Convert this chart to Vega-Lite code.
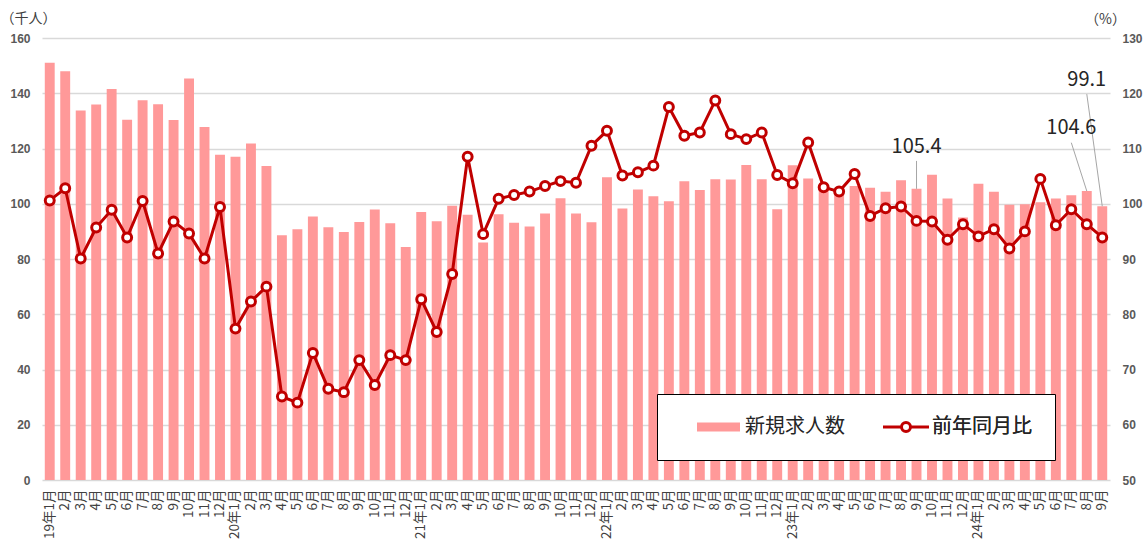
{
  "$schema": "https://vega.github.io/schema/vega-lite/v6.json",
  "width": 1068,
  "height": 442,
  "autosize": {"type": "none"},
  "padding": {"left": 42, "top": 38, "right": 35, "bottom": 61},
  "background": "white",
  "config": {
    "view": {"stroke": null},
    "font": "Noto Sans CJK JP",
    "legend": {"labelFontSize": 20, "labelFont": "Noto Sans CJK JP", "labelColor": "#262626", "symbolSize": 400}
  },
  "datasets": {
    "main": [
      {"m": "2019-01", "v": 151.0, "r": 100.6},
      {"m": "2019-02", "v": 148.0, "r": 102.8},
      {"m": "2019-03", "v": 133.8, "r": 90.1},
      {"m": "2019-04", "v": 135.9, "r": 95.7},
      {"m": "2019-05", "v": 141.5, "r": 98.9},
      {"m": "2019-06", "v": 130.4, "r": 93.9},
      {"m": "2019-07", "v": 137.5, "r": 100.5},
      {"m": "2019-08", "v": 136.0, "r": 91.0},
      {"m": "2019-09", "v": 130.3, "r": 96.8},
      {"m": "2019-10", "v": 145.3, "r": 94.6},
      {"m": "2019-11", "v": 127.8, "r": 90.1},
      {"m": "2019-12", "v": 117.7, "r": 99.4},
      {"m": "2020-01", "v": 117.0, "r": 77.4},
      {"m": "2020-02", "v": 121.8, "r": 82.3},
      {"m": "2020-03", "v": 113.7, "r": 85.0},
      {"m": "2020-04", "v": 88.6, "r": 65.1},
      {"m": "2020-05", "v": 90.8, "r": 64.0},
      {"m": "2020-06", "v": 95.4, "r": 73.0},
      {"m": "2020-07", "v": 91.5, "r": 66.5},
      {"m": "2020-08", "v": 89.8, "r": 65.9},
      {"m": "2020-09", "v": 93.4, "r": 71.7},
      {"m": "2020-10", "v": 97.9, "r": 67.2},
      {"m": "2020-11", "v": 92.9, "r": 72.6},
      {"m": "2020-12", "v": 84.3, "r": 71.7},
      {"m": "2021-01", "v": 97.0, "r": 82.7},
      {"m": "2021-02", "v": 93.7, "r": 76.8},
      {"m": "2021-03", "v": 99.3, "r": 87.3},
      {"m": "2021-04", "v": 96.0, "r": 108.5},
      {"m": "2021-05", "v": 86.0, "r": 94.5},
      {"m": "2021-06", "v": 96.2, "r": 100.9},
      {"m": "2021-07", "v": 93.1, "r": 101.6},
      {"m": "2021-08", "v": 91.8, "r": 102.2},
      {"m": "2021-09", "v": 96.5, "r": 103.2},
      {"m": "2021-10", "v": 102.0, "r": 104.1},
      {"m": "2021-11", "v": 96.5, "r": 103.8},
      {"m": "2021-12", "v": 93.3, "r": 110.5},
      {"m": "2022-01", "v": 109.6, "r": 113.2},
      {"m": "2022-02", "v": 98.3, "r": 105.1},
      {"m": "2022-03", "v": 105.2, "r": 105.7},
      {"m": "2022-04", "v": 102.7, "r": 106.9},
      {"m": "2022-05", "v": 100.9, "r": 117.5},
      {"m": "2022-06", "v": 108.1, "r": 112.3},
      {"m": "2022-07", "v": 105.0, "r": 112.9},
      {"m": "2022-08", "v": 108.9, "r": 118.7},
      {"m": "2022-09", "v": 108.8, "r": 112.6},
      {"m": "2022-10", "v": 114.0, "r": 111.7},
      {"m": "2022-11", "v": 108.9, "r": 112.9},
      {"m": "2022-12", "v": 98.0, "r": 105.2},
      {"m": "2023-01", "v": 113.9, "r": 103.7},
      {"m": "2023-02", "v": 109.1, "r": 111.1},
      {"m": "2023-03", "v": 106.5, "r": 103.0},
      {"m": "2023-04", "v": 103.5, "r": 102.2},
      {"m": "2023-05", "v": 106.4, "r": 105.4},
      {"m": "2023-06", "v": 105.8, "r": 97.8},
      {"m": "2023-07", "v": 104.3, "r": 99.2},
      {"m": "2023-08", "v": 108.5, "r": 99.5},
      {"m": "2023-09", "v": 105.4, "r": 96.9},
      {"m": "2023-10", "v": 110.5, "r": 96.8},
      {"m": "2023-11", "v": 101.9, "r": 93.5},
      {"m": "2023-12", "v": 95.0, "r": 96.3},
      {"m": "2024-01", "v": 107.2, "r": 94.1},
      {"m": "2024-02", "v": 104.3, "r": 95.4},
      {"m": "2024-03", "v": 99.6, "r": 91.9},
      {"m": "2024-04", "v": 99.8, "r": 95.0},
      {"m": "2024-05", "v": 100.5, "r": 104.5},
      {"m": "2024-06", "v": 101.9, "r": 96.1},
      {"m": "2024-07", "v": 103.1, "r": 99.0},
      {"m": "2024-08", "v": 104.6, "r": 96.3},
      {"m": "2024-09", "v": 99.1, "r": 93.9}
    ],
    "notes": [
      {"m": "2023-09", "v": 105.4, "m0": "2023-09", "v0": 115.5, "ty": 118.5, "lbl": "105.4"},
      {"m": "2024-08", "v": 104.6, "m0": "2024-07", "v0": 122.1, "ty": 125.1, "lbl": "104.6"},
      {"m": "2024-09", "v": 99.1, "m0": "2024-08", "v0": 139.7, "ty": 142.6, "lbl": "99.1"}
    ]
  },
  "layer": [
    {
      "layer": [
        {
          "data": {"name": "main"},
          "mark": {"type": "bar"},
          "encoding": {
            "x": {
              "field": "m", "type": "ordinal", "title": null,
              "scale": {"paddingInner": 0.36, "paddingOuter": 0.18},
              "axis": {
                "title": null, "labelAngle": -90, "labelAlign": "right", "labelBaseline": "middle",
                "labelFont": "Noto Sans CJK JP", "labelFontSize": 13.5, "labelColor": "#404040",
                "labelPadding": 9, "ticks": false, "tickSize": 0, "domain": false, "grid": false,
                "labelOverlap": false,
                "labelExpr": "substring(datum.value,5,7) == '01' ? substring(datum.value,2,4) + '年1月' : toNumber(substring(datum.value,5,7)) + '月'"
              }
            },
            "y": {
              "field": "v", "type": "quantitative", "title": "（千人）",
              "scale": {"domain": [0, 160], "nice": false},
              "axis": {
                "values": [0, 20, 40, 60, 80, 100, 120, 140, 160],
                "title": "（千人）", "titleAngle": 0, "titleX": -42, "titleY": -20,
                "titleAlign": "left", "titleBaseline": "middle", "titleFontSize": 14,
                "titleFontWeight": "normal", "titleColor": "#404040", "titleFont": "Noto Sans CJK JP",
                "labelFont": "Liberation Sans", "labelFontWeight": "bold", "labelFontSize": 12,
                "labelColor": "#595959", "labelPadding": 12, "ticks": false, "tickSize": 0,
                "domain": false, "grid": true, "gridColor": "#d9d9d9", "gridWidth": 1.5
              }
            },
            "fill": {
              "datum": "新規求人数",
              "scale": {"domain": ["新規求人数", "前年同月比"], "range": ["#ff9999", "rgba(255,255,255,0)"]},
              "legend": {
                "orient": "none", "legendX": 615, "legendY": 356, "direction": "horizontal",
                "title": null, "padding": 23, "fillColor": "white", "strokeColor": "#000000",
                "symbolType": "M0.7,-0.45H5V0.45H0.7Z", "symbolSize": 400, "symbolStrokeWidth": 0,
                "symbolOpacity": 1, "labelOffset": 45, "columnPadding": 22,
                "labelFontSize": 20, "labelFont": "Noto Sans CJK JP", "labelColor": "#262626",
                "labelExpr": "datum.label == '前年同月比' ? datum.label + '\u2002' : datum.label",
                "encode": {"legend": {"strokeWidth": {"value": 2}}}
              }
            }
          }
        },
        {
          "data": {"name": "notes"},
          "mark": {"type": "rule", "color": "#a6a6a6", "strokeWidth": 1},
          "encoding": {
            "x": {"field": "m0", "type": "ordinal", "bandPosition": 0.5, "title": null},
            "x2": {"field": "m", "bandPosition": 0.5},
            "y": {"field": "v0", "type": "quantitative", "title": "（千人）"},
            "y2": {"field": "v"}
          }
        },
        {
          "data": {"name": "notes"},
          "mark": {"type": "text", "fontSize": 20, "color": "#262626", "baseline": "alphabetic", "align": "center", "font": "Noto Sans CJK JP"},
          "encoding": {
            "x": {"field": "m0", "type": "ordinal", "title": null},
            "y": {"field": "ty", "type": "quantitative", "title": "（千人）"},
            "text": {"field": "lbl"}
          }
        }
      ]
    },
    {
      "layer": [
        {
          "data": {"name": "main"},
          "mark": {"type": "line", "strokeWidth": 3},
          "encoding": {
            "x": {"field": "m", "type": "ordinal", "title": null},
            "y": {
              "field": "r", "type": "quantitative", "title": "（%）",
              "scale": {"domain": [50, 130], "nice": false},
              "axis": {
                "orient": "right",
                "values": [50, 60, 70, 80, 90, 100, 110, 120, 130],
                "title": "（%）", "titleAngle": 0, "titleX": -5, "titleY": -19,
                "titleAlign": "center", "titleBaseline": "middle", "titleFontSize": 14,
                "titleFontWeight": "normal", "titleColor": "#404040", "titleFont": "Noto Sans CJK JP",
                "labelFont": "Liberation Sans", "labelFontWeight": "bold", "labelFontSize": 12,
                "labelColor": "#595959", "labelPadding": 12, "ticks": false, "tickSize": 0,
                "domain": false, "grid": false
              }
            },
            "stroke": {
              "datum": "前年同月比",
              "scale": {"domain": ["前年同月比"], "range": ["#c00000"]},
              "legend": {
                "orient": "none", "legendX": 803.5, "legendY": 356, "direction": "horizontal",
                "title": null, "padding": 21.5,
                "symbolType": "M0.45,0H2.3M3.2,0H5.05M3.2,0A0.45,0.45 0 1,1 2.3,0A0.45,0.45 0 1,1 3.2,0Z",
                "symbolSize": 400, "symbolStrokeWidth": 3, "symbolFillColor": "white",
                "symbolStrokeColor": "#c00000", "symbolOpacity": 1,
                "labelOffset": 42, "labelFontSize": 20, "labelFont": "Noto Sans CJK JP", "labelColor": "#262626"
              }
            }
          }
        },
        {
          "data": {"name": "main"},
          "mark": {"type": "point", "filled": true, "fill": "white", "stroke": "#c00000", "strokeWidth": 3, "size": 80, "opacity": 1},
          "encoding": {
            "x": {"field": "m", "type": "ordinal", "title": null},
            "y": {"field": "r", "type": "quantitative", "title": "（%）"}
          }
        }
      ]
    }
  ],
  "resolve": {"scale": {"y": "independent"}}
}
